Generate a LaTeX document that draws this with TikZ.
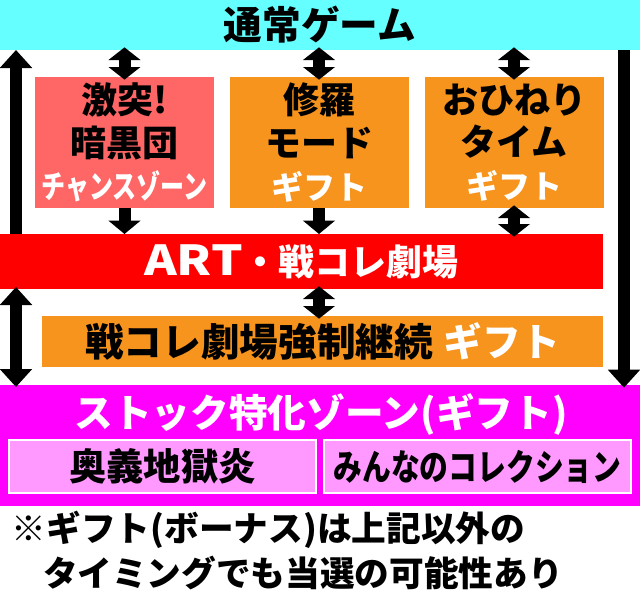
\documentclass[tikz,border=0pt]{standalone}
\usepackage{fontspec}
\usepackage{graphicx}
\usepackage{xcolor}
\usetikzlibrary{arrows.meta}
\newfontfamily\cjk{Noto Sans CJK JP Black}
\definecolor{gamecyan}{HTML}{66FFFF}
\definecolor{chancered}{HTML}{FF6666}
\definecolor{giftorange}{HTML}{F7941D}
\definecolor{artred}{HTML}{FF0000}
\definecolor{stockpink}{HTML}{FF00FF}
\definecolor{zonepink}{HTML}{FF99FF}

\begin{document}
\begin{tikzpicture}[x=0.75pt,y=0.75pt,yscale=-1,xscale=1,
    panel/.style={inner sep=0pt, outer sep=0pt, align=center, font=\cjk\fontsize{27}{32}\selectfont},
    railup/.style={line width=9.5pt, -{Triangle[length=13.5pt,width=23.5pt]}},
    railboth/.style={line width=9.5pt, {Triangle[length=13.5pt,width=23.5pt]}-{Triangle[length=13.5pt,width=23.5pt]}},
    pairarrow/.style={line width=9pt, shorten <=-2pt, shorten >=-2pt, {Triangle[length=9.5pt,width=23.5pt]}-{Triangle[length=9.5pt,width=23.5pt]}},
    downarrow/.style={line width=9pt, -{Triangle[length=10pt,width=23.5pt]}}]
    \useasboundingbox (0,0) rectangle (640,596);

    %Shape: Rectangle (normal game)
    \node[panel, fill=gamecyan, minimum width=480pt, minimum height=37.5pt, font=\cjk\fontsize{29}{32}\selectfont] (normal) at (320,25) {通常ゲーム};
    %Shape: Rectangle (three modes)
    \node[panel, fill=chancered, minimum width=134.25pt, minimum height=98.25pt] (gekitotsu) at (124.5,142.5) {激突!\\暗黒団\\{\color{white}\fontsize{24}{32}\selectfont\scalebox{0.75}[1]{チャンスゾーン}}};
    \node[panel, fill=giftorange, minimum width=134.25pt, minimum height=98.25pt] (shura) at (319,142.5) {修羅\\モード\\{\color{white}\fontsize{24}{32}\selectfont ギフト}};
    \node[panel, fill=giftorange, minimum width=134.25pt, minimum height=98.25pt] (ohineri) at (514,142.5) {おひねり\\タイム\\{\color{white}\fontsize{24}{32}\selectfont ギフト}};
    %Shape: Rectangle (ART)
    \node[panel, fill=artred, text=white, minimum width=452.25pt, minimum height=41.25pt] (artbar) at (301.5,261.5) {{\fontsize{31}{32}\selectfont\scalebox{1.2}[1]{ART}}・戦コレ劇場};
    %Shape: Rectangle (forced continue)
    \node[panel, fill=giftorange, minimum width=420.75pt, minimum height=38.25pt, font=\cjk\fontsize{29}{32}\selectfont] (keizoku) at (322.5,341.5) {戦コレ劇場強制継続\hspace{8pt}{\color{white}ギフト}};
    %Shape: Rectangle (stock zone)
    \node[panel, fill=stockpink, minimum width=480pt, minimum height=90.75pt] (stockzone) at (320,445.5) {};
    % Text Node
    \node[panel, text=white, font=\cjk\fontsize{29}{32}\selectfont] (stocktitle) at (321,414) {ストック特化ゾーン(ギフト)};
    \node[panel, fill=zonepink, draw=white, line width=1.5pt, minimum width=230.25pt, minimum height=39.75pt, font=\cjk\fontsize{28}{32}\selectfont] (ougi) at (162.5,466.5) {奥義地獄炎};
    \node[panel, fill=zonepink, draw=white, line width=1.5pt, minimum width=230.25pt, minimum height=39.75pt] (minna) at (477.5,466.5) {\scalebox{0.8}[1]{みんなのコレクション}};

    % Text Node
    \node[panel, anchor=west, font=\cjk\fontsize{26}{32}\selectfont] (note1) at (12,530) {※ギフト(ボーナス)は上記以外の};
    % Text Node
    \node[panel, anchor=west, font=\cjk\fontsize{26}{32}\selectfont] (note2) at (43,573) {タイミングでも当選の可能性あり};

    \coordinate (leftrail) at (16,0);
    \coordinate (rightrail) at (624,0);
    %Straight Lines (side rails)
    \draw[railup] (leftrail |- artbar.north) -- (leftrail |- normal.south);
    \draw[railboth, shorten <=-1.5pt, shorten >=-1.5pt] (leftrail |- artbar.south) -- (leftrail |- stockzone.north);
    \draw[railup, shorten >=-2pt] (rightrail |- normal.south) -- (rightrail |- stockzone.north);
    %Straight Lines (mode arrows)
    \draw[pairarrow] (gekitotsu.north) -- (gekitotsu.north |- normal.south);
    \draw[pairarrow] (shura.north) -- (shura.north |- normal.south);
    \draw[pairarrow] (ohineri.north) -- (ohineri.north |- normal.south);
    \draw[downarrow] (gekitotsu.south) -- (gekitotsu.south |- artbar.north);
    \draw[downarrow] (shura.south) -- (shura.south |- artbar.north);
    \draw[pairarrow] (ohineri.south) -- (ohineri.south |- artbar.north);
    \draw[pairarrow] (shura.south |- artbar.south) -- (shura.south |- keizoku.north);
\end{tikzpicture}
\end{document}
